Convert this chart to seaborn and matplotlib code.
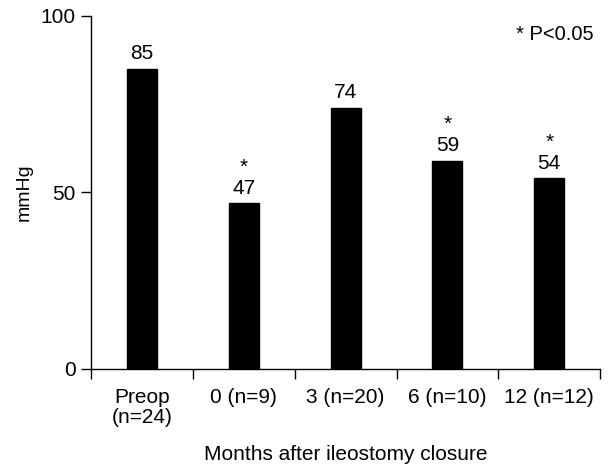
import numpy as np
import pandas as pd
import matplotlib
matplotlib.use("Agg")
import matplotlib.pyplot as plt
import seaborn as sns

categories = ["Preop\n(n=24)", "0 (n=9)", "3 (n=20)", "6 (n=10)", "12 (n=12)"]
values = [85, 47, 74, 59, 54]
significant = [False, True, False, True, True]

sns.set_theme(style="ticks")
plt.rcParams['font.family'] = ['Liberation Sans', 'DejaVu Sans']
plt.rcParams['text.color'] = 'black'
plt.rcParams['axes.labelcolor'] = 'black'
plt.rcParams['xtick.color'] = 'black'
plt.rcParams['ytick.color'] = 'black'

df = pd.DataFrame({"group": categories, "mmHg": values})

fig = plt.figure(figsize=(6.12, 4.65), dpi=100)
ax = fig.add_axes([0.1487, 0.2065, 0.832, 0.7597])

sns.barplot(data=df, x="group", y="mmHg", color="black", width=0.295,
            edgecolor="black", saturation=1, ax=ax)

ax.set_xlim(-0.5, len(categories) - 0.5)
ax.set_ylim(0, 100)
ax.set_yticks([0, 50, 100])

# category labels sit between the boundary ticks
ax.set_xticks(range(len(categories)))
ax.set_xticklabels(categories, fontsize=15, linespacing=1.05)
ax.set_xticks(np.arange(-0.5, len(categories)), minor=True)
ax.tick_params(axis="x", which="major", bottom=False, length=0, pad=14)
ax.tick_params(axis="x", which="minor", bottom=True, length=7, width=1, direction="out")
ax.tick_params(axis="y", left=True, length=7, width=1, direction="out", labelsize=15, pad=4)

sns.despine(ax=ax)
for side in ["left", "bottom"]:
    ax.spines[side].set_color("black")
    ax.spines[side].set_linewidth(1)

for i, (v, sig) in enumerate(zip(values, significant)):
    ax.text(i, v + 1.5, str(v), ha="center", va="bottom", fontsize=15)
    if sig:
        ax.text(i, v + 7.5, "*", ha="center", va="bottom", fontsize=15)

fig.text(0.97, 0.925, "* P<0.05", ha="right", va="center", fontsize=14.5)

ax.set_xlabel("Months after ileostomy closure", fontsize=15, labelpad=13)
ax.set_ylabel("mmHg", fontsize=14, labelpad=6)

fig.savefig("out.png", dpi=100)
plt.close(fig)
